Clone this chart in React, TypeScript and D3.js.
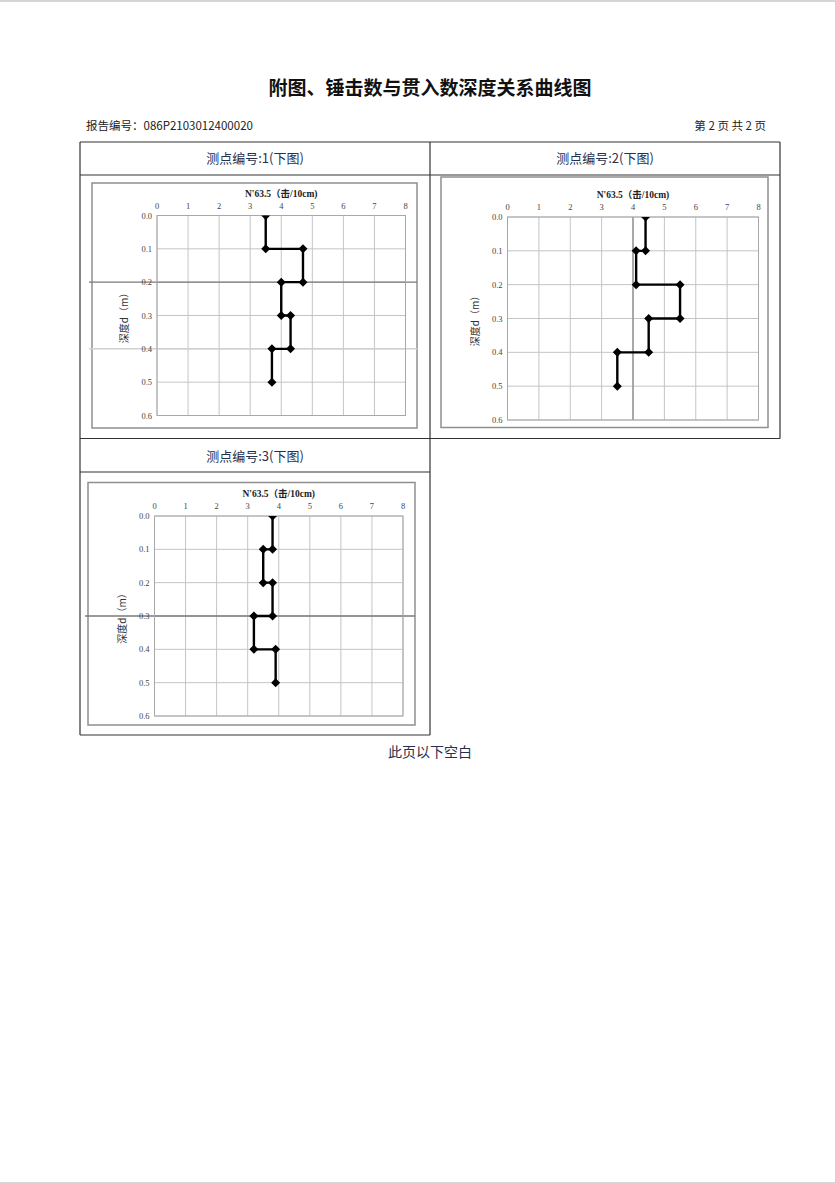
import React from "react";
import * as d3 from "d3";

// 每个测点的折线点：深度 (m) 与 N63.5 (击/10cm)
const depths = [0.0, 0.1, 0.1, 0.2, 0.2, 0.3, 0.3, 0.4, 0.4, 0.5];
const n1 = [3.5, 3.5, 4.7, 4.7, 4.0, 4.0, 4.3, 4.3, 3.7, 3.7];
const n2 = [4.4, 4.4, 4.1, 4.1, 5.5, 5.5, 4.5, 4.5, 3.5, 3.5];
const n3 = [3.8, 3.8, 3.5, 3.5, 3.8, 3.8, 3.2, 3.2, 3.9, 3.9];

const xTicks = [0, 1, 2, 3, 4, 5, 6, 7, 8];
const yTicks = [0.0, 0.1, 0.2, 0.3, 0.4, 0.5, 0.6];

const titleText = "附图、锤击数与贯入数深度关系曲线图";
const reportNo = "报告编号：086P2103012400020";
const pageText = "第 2 页  共 2 页";
const cellTitles = ["测点编号:1(下图)", "测点编号:2(下图)", "测点编号:3(下图)"];
const chartTitle = "N'63.5（击/10cm)";
const yLabel = "深度d（m）";
const footText = "此页以下空白";

const SERIF = "'Liberation Serif', 'DejaVu Serif', 'Noto Sans CJK SC', serif";
const CJK = "'Noto Sans CJK SC', sans-serif";

type Box = { x0: number; y0: number; x1: number; y1: number };

const Chart = ({ id, frame, plot, values, darkH, faintH, darkV }: {
  id: string; frame: Box; plot: Box; values: number[];
  darkH?: number; faintH?: number; darkV?: number;
}) => {
  const x = d3.scaleLinear().domain([0, 8]).range([plot.x0, plot.x1]);
  const y = d3.scaleLinear().domain([0, 0.6]).range([plot.y0, plot.y1]);
  const pts: [number, number][] = values.map((v, i) => [v, depths[i]]);
  const line = d3.line<[number, number]>().x((d) => x(d[0])).y((d) => y(d[1]));
  const cx = (plot.x0 + plot.x1) / 2;
  const cy = (plot.y0 + plot.y1) / 2;

  return (
    <g>
      <defs>
        <clipPath id={id}>
          <rect x={plot.x0 - 6} y={plot.y0} width={plot.x1 - plot.x0 + 12} height={plot.y1 - plot.y0 + 8} />
        </clipPath>
      </defs>
      <rect x={frame.x0} y={frame.y0} width={frame.x1 - frame.x0} height={frame.y1 - frame.y0}
        fill="#fff" stroke="#8f8f8f" strokeWidth={1.5} />
      {/* 网格 */}
      {xTicks.map((t) => (
        <line key={"gx" + t} x1={x(t)} x2={x(t)} y1={plot.y0} y2={plot.y1} stroke="#c4c4c4" strokeWidth={1} />
      ))}
      {yTicks.map((t) => (
        <line key={"gy" + t} x1={plot.x0} x2={plot.x1} y1={y(t)} y2={y(t)} stroke="#c4c4c4" strokeWidth={1} />
      ))}
      {faintH !== undefined && (
        <line x1={frame.x0 - 3} x2={frame.x1} y1={y(faintH)} y2={y(faintH)} stroke="#d0d0d0" strokeWidth={1.5} />
      )}
      {darkH !== undefined && (
        <line x1={frame.x0 - 3} x2={frame.x1} y1={y(darkH)} y2={y(darkH)} stroke="#7a7a7a" strokeWidth={1.3} />
      )}
      {darkV !== undefined && (
        <line x1={x(darkV)} x2={x(darkV)} y1={plot.y0} y2={plot.y1} stroke="#8a8a8a" strokeWidth={1.3} />
      )}
      <rect x={plot.x0} y={plot.y0} width={plot.x1 - plot.x0} height={plot.y1 - plot.y0}
        fill="none" stroke="#a8a8a8" strokeWidth={1} />
      {/* 刻度 */}
      {xTicks.map((t) => (
        <text key={"tx" + t} x={x(t)} y={plot.y0 - 7} textAnchor="middle" fontFamily={SERIF}
          fontSize={8.5} fill="#444">{t}</text>
      ))}
      {yTicks.map((t) => (
        <text key={"ty" + t} x={plot.x0 - 5} y={y(t) + 3} textAnchor="end" fontFamily={SERIF}
          fontSize={8.5} fill="#444">{t.toFixed(1)}</text>
      ))}
      <text x={cx} y={plot.y0 - 19} textAnchor="middle" fontFamily={SERIF} fontSize={9.5}
        fontWeight="bold" fill="#222">{chartTitle}</text>
      <text transform={`translate(${plot.x0 - 29},${cy}) rotate(-90)`} textAnchor="middle"
        fontFamily={CJK} fontSize={10} fill="#333">{yLabel}</text>
      {/* 折线 */}
      <g clipPath={`url(#${id})`}>
        <path d={line(pts) || ""} fill="none" stroke="#000" strokeWidth={2.4} />
        {pts.map((p, i) => (
          <path key={"m" + i} d="M0,-4.5L4.5,0L0,4.5L-4.5,0Z" fill="#000"
            transform={`translate(${x(p[0])},${y(p[1])})`} />
        ))}
      </g>
    </g>
  );
};

export default function App() {
  const W = 835;
  const H = 1184;
  return (
    <svg width={W} height={H} style={{ position: "absolute", left: 0, top: 0, background: "#fff" }}>
      <line x1={0} x2={W} y1={1} y2={1} stroke="#c8c8c8" strokeWidth={1.5} />
      <line x1={0} x2={W} y1={H - 1} y2={H - 1} stroke="#c8c8c8" strokeWidth={1.5} />

      <text x={430} y={95} textAnchor="middle" fontFamily={CJK} fontWeight="bold" fontSize={19} fill="#111">
        {titleText}
      </text>
      <text x={86} y={130} fontFamily={CJK} fontSize={11.5} fill="#222">{reportNo}</text>
      <text x={766} y={130} textAnchor="end" fontFamily={CJK} fontSize={11.5} fill="#222">{pageText}</text>

      {/* 表格 */}
      <g stroke="#333" strokeWidth={1.2} fill="none">
        <line x1={80} x2={780} y1={142} y2={142} />
        <line x1={80} x2={780} y1={175} y2={175} />
        <line x1={80} x2={780} y1={438.5} y2={438.5} />
        <line x1={80} x2={430} y1={472} y2={472} />
        <line x1={80} x2={430} y1={735} y2={735} />
        <line x1={80} x2={80} y1={142} y2={735} />
        <line x1={430} x2={430} y1={142} y2={735} />
        <line x1={780} x2={780} y1={142} y2={438.5} />
      </g>
      <text x={255} y={163} textAnchor="middle" fontFamily={CJK} fontSize={13} fill="#27314d">{cellTitles[0]}</text>
      <text x={605} y={163} textAnchor="middle" fontFamily={CJK} fontSize={13} fill="#27314d">{cellTitles[1]}</text>
      <text x={255} y={461} textAnchor="middle" fontFamily={CJK} fontSize={13} fill="#27314d">{cellTitles[2]}</text>

      <Chart id="c1" frame={{ x0: 92, y0: 183, x1: 417, y1: 428 }}
        plot={{ x0: 157, y0: 215.5, x1: 405.5, y1: 415.5 }} values={n1} darkH={0.2} faintH={0.4} />
      <Chart id="c2" frame={{ x0: 441, y0: 177, x1: 768, y1: 427.5 }}
        plot={{ x0: 507.5, y0: 217, x1: 758.5, y1: 420 }} values={n2} darkV={4} />
      <Chart id="c3" frame={{ x0: 88, y0: 482.5, x1: 415, y1: 725 }}
        plot={{ x0: 154.5, y0: 516, x1: 403, y1: 716 }} values={n3} darkH={0.3} />

      <text x={430} y={757} textAnchor="middle" fontFamily={CJK} fontSize={14} fill="#27314d">{footText}</text>
    </svg>
  );
}
